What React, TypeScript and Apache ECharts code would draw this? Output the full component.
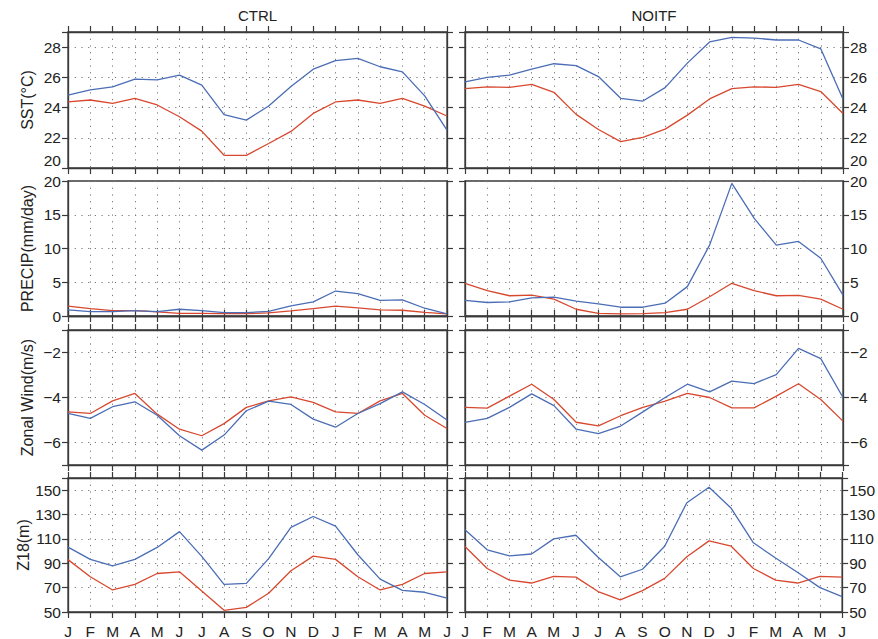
import React, { useEffect, useRef } from "react";
import * as echarts from "echarts";

const months = ["J", "F", "M", "A", "M", "J", "J", "A", "S", "O", "N", "D", "J", "F", "M", "A", "M", "J"];

const sstCtrlBlue = [24.83, 25.17, 25.37, 25.88, 25.83, 26.14, 25.48, 23.53, 23.17, 24.1, 25.39, 26.54, 27.1, 27.25, 26.7, 26.36, 24.77, 22.5];
const sstCtrlRed = [24.37, 24.5, 24.28, 24.61, 24.17, 23.39, 22.44, 20.84, 20.84, 21.62, 22.42, 23.61, 24.37, 24.5, 24.28, 24.61, 24.1, 23.44];
const sstNoitfBlue = [25.7, 26.0, 26.14, 26.54, 26.9, 26.78, 26.05, 24.61, 24.43, 25.32, 26.94, 28.34, 28.65, 28.6, 28.47, 28.47, 27.89, 24.55];
const sstNoitfRed = [25.25, 25.37, 25.34, 25.54, 25.01, 23.55, 22.55, 21.75, 22.02, 22.57, 23.5, 24.57, 25.25, 25.37, 25.34, 25.54, 25.06, 23.61];

const precipCtrlBlue = [0.9, 0.65, 0.65, 0.8, 0.65, 1.0, 0.8, 0.5, 0.5, 0.7, 1.5, 2.1, 3.7, 3.3, 2.3, 2.4, 1.15, 0.3];
const precipCtrlRed = [1.45, 1.1, 0.8, 0.8, 0.6, 0.4, 0.4, 0.35, 0.35, 0.45, 0.75, 1.1, 1.45, 1.2, 0.9, 0.85, 0.55, 0.3];
const precipNoitfBlue = [2.3, 2.0, 2.1, 2.7, 2.8, 2.2, 1.8, 1.3, 1.3, 1.9, 4.35, 10.5, 19.65, 14.5, 10.5, 11.05, 8.55, 3.1];
const precipNoitfRed = [4.85, 3.75, 3.0, 3.1, 2.5, 1.0, 0.4, 0.3, 0.35, 0.5, 1.0, 2.85, 4.85, 3.75, 3.0, 3.05, 2.5, 1.0];

const windCtrlBlue = [-4.71, -4.93, -4.41, -4.19, -4.79, -5.7, -6.34, -5.67, -4.59, -4.16, -4.31, -4.96, -5.32, -4.71, -4.27, -3.75, -4.31, -5.0];
const windCtrlRed = [-4.64, -4.71, -4.15, -3.82, -4.74, -5.41, -5.7, -5.16, -4.44, -4.15, -3.97, -4.22, -4.64, -4.71, -4.15, -3.82, -4.79, -5.38];
const windNoitfBlue = [-5.11, -4.93, -4.44, -3.84, -4.36, -5.41, -5.61, -5.27, -4.64, -4.0, -3.41, -3.75, -3.27, -3.38, -2.98, -1.82, -2.27, -4.0];
const windNoitfRed = [-4.44, -4.47, -3.94, -3.41, -4.09, -5.1, -5.26, -4.81, -4.44, -4.16, -3.82, -4.0, -4.46, -4.46, -3.94, -3.39, -4.09, -5.05];

const z18CtrlBlue = [103.2, 93.2, 87.8, 93.2, 103, 116, 95.7, 72.7, 73.5, 93.8, 119.5, 128.4, 120.5, 97, 77, 67.8, 66.2, 61.4];
const z18CtrlRed = [93, 78.9, 68.1, 72.7, 81.6, 83, 67.3, 51.4, 53.8, 65.4, 83.8, 95.9, 93.2, 78.9, 68.1, 72.7, 81.6, 83];
const z18NoitfBlue = [117.6, 101.1, 96, 97.6, 110, 113, 94.9, 78.9, 85.1, 104, 139.7, 152.4, 135.1, 106.8, 94.3, 82.4, 70, 62.7];
const z18NoitfRed = [103.8, 85.7, 76.2, 73.8, 79.2, 78.6, 66.8, 60, 67.6, 77.6, 95.4, 108.4, 104, 85.7, 76.2, 73.8, 79.2, 78.6];

const sstTicks = [20, 22, 24, 26, 28];
const precipTicks = [0, 5, 10, 15, 20];
const windTicks = [-6, -4, -2];
const z18Ticks = [50, 70, 90, 110, 130, 150];

const columnTitles = ["CTRL", "NOITF"];
const rowNames = ["SST(°C)", "PRECIP(mm/day)", "Zonal Wind(m/s)", "Z18(m)"];

const BLUE = "#4a6db5";
const RED = "#d8482e";
const AXIS = "#3a3a3a";
const FONT = "Arial, 'Liberation Sans', Helvetica, sans-serif";

const rows = [
  { ticks: sstTicks, min: 20, max: 29, interval: 2, data: [[sstCtrlBlue, sstCtrlRed], [sstNoitfBlue, sstNoitfRed]] },
  { ticks: precipTicks, min: 0, max: 20, interval: 5, data: [[precipCtrlBlue, precipCtrlRed], [precipNoitfBlue, precipNoitfRed]] },
  { ticks: windTicks, min: -7, max: -1, interval: null, data: [[windCtrlBlue, windCtrlRed], [windNoitfBlue, windNoitfRed]] },
  { ticks: z18Ticks, min: 50, max: 160, interval: 20, data: [[z18CtrlBlue, z18CtrlRed], [z18NoitfBlue, z18NoitfRed]] },
];

const rowTops = [32, 181, 330, 478];
const rowHeights = [136, 135, 135, 136];
const colLefts = [68, 465];
const colWidths = [379, 378];

export default function App() {
  const ref = useRef<HTMLDivElement>(null);
  useEffect(() => {
    if (!ref.current) return;
    const chart = echarts.init(ref.current, null, { renderer: "svg" });
    const grid: any[] = [];
    const xAxis: any[] = [];
    const yAxis: any[] = [];
    const series: any[] = [];
    const axisLine = { show: true, lineStyle: { color: AXIS, width: 1.3 } };
    const axisTick = { show: true, inside: false, length: 6, lineStyle: { color: AXIS, width: 1.2 } };
    const dotted = { show: true, lineStyle: { color: "#777", width: 1, type: [1.2, 5.5] } };
    rows.forEach((row, r) => {
      [0, 1].forEach((c) => {
        const p = r * 2 + c;
        grid.push({
          left: colLefts[c],
          top: rowTops[r],
          width: colWidths[c],
          height: rowHeights[r],
          show: true,
          borderColor: AXIS,
          borderWidth: 1.3,
          backgroundColor: "transparent",
        });
        xAxis.push({
          type: "category",
          gridIndex: p,
          data: months,
          boundaryGap: false,
          position: "bottom",
          axisLine,
          axisTick: { ...axisTick, interval: 0 },
          axisLabel: {
            show: r === 3,
            interval: 0,
            margin: 11,
            fontSize: 15.5,
            color: "#222",
            fontFamily: FONT,
          },
          splitLine: { ...dotted, interval: 0 },
        });
        xAxis.push({
          type: "category",
          gridIndex: p,
          data: months,
          boundaryGap: false,
          position: "top",
          axisLine,
          axisTick: { ...axisTick, interval: 0 },
          axisLabel: { show: false },
          splitLine: { show: false },
        });
        const ticks = row.ticks;
        const fmt = (v: number) => (ticks.includes(v) ? String(v).replace("-", "\u2212") : "");
        const base: any = {
          type: "value",
          gridIndex: p,
          min: row.min,
          max: row.max,
          axisLine,
          axisTick,
        };
        if (row.interval) base.interval = row.interval;
        else {
          base.minInterval = 2;
          base.maxInterval = 2;
          base.splitNumber = 3;
        }
        const label: any = { show: true, formatter: fmt, margin: 7, fontSize: 15.5, color: "#222", fontFamily: FONT };
        if (r === 0) label.verticalAlignMinLabel = "bottom";
        yAxis.push({
          ...base,
          position: c === 0 ? "left" : "right",
          name: c === 0 ? rowNames[r] : "",
          nameLocation: "middle",
          nameGap: 33,
          nameRotate: 90,
          nameTextStyle: { fontSize: 16, color: "#222", fontFamily: FONT },
          axisLabel: label,
          splitLine: dotted,
        });
        yAxis.push({
          ...base,
          position: c === 0 ? "right" : "left",
          axisLabel: { show: false },
          splitLine: { show: false },
        });
        const [blue, red] = row.data[c];
        series.push({
          type: "line",
          xAxisIndex: p * 2,
          yAxisIndex: p * 2,
          data: red,
          showSymbol: false,
          symbol: "none",
          lineStyle: { color: RED, width: 1.3 },
          z: 3,
        });
        series.push({
          type: "line",
          xAxisIndex: p * 2,
          yAxisIndex: p * 2,
          data: blue,
          showSymbol: false,
          symbol: "none",
          lineStyle: { color: BLUE, width: 1.3 },
          z: 4,
        });
      });
    });
    chart.setOption({
      animation: false,
      backgroundColor: "#ffffff",
      grid,
      xAxis,
      yAxis,
      series,
      graphic: columnTitles.map((t, c) => ({
        type: "text",
        x: colLefts[c] + colWidths[c] / 2,
        y: 15,
        style: {
          text: t,
          align: "center",
          verticalAlign: "middle",
          fontSize: 15,
          fontFamily: FONT,
          fill: "#222",
        },
      })),
    });
    return () => chart.dispose();
  }, []);
  return (
    <div
      ref={ref}
      style={{ position: "absolute", left: 0, top: 0, width: 878, height: 639, background: "#fff" }}
    />
  );
}
